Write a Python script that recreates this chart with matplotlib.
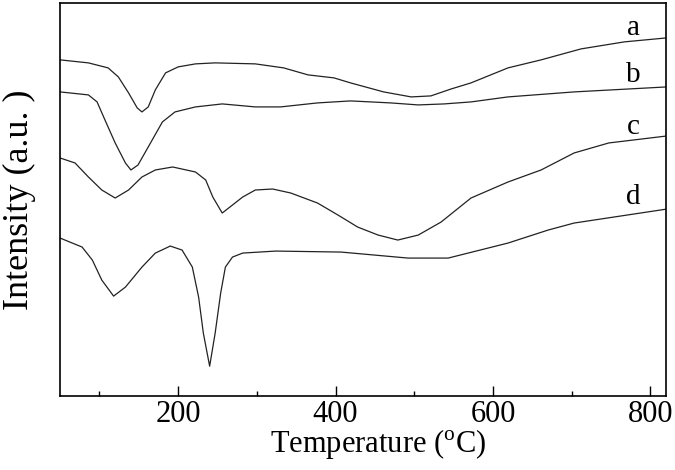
import numpy as np
import matplotlib.pyplot as plt

plt.rcParams['font.family'] = ['Liberation Serif', 'DejaVu Serif']
plt.rcParams['mathtext.fontset'] = 'custom'
plt.rcParams['mathtext.rm'] = 'Liberation Serif'

# temperature (C) and intensity (a.u.)
temp_a = [50, 86, 111, 124, 137, 148, 154, 162, 171, 184, 200, 222, 247, 298, 334, 365, 398, 419,
          461, 496, 521, 547, 572, 619, 661, 712, 767, 821]
int_a = [336, 333, 328, 319, 303, 288, 284, 289, 306, 323, 329, 332, 333, 332, 328, 321, 318, 313,
         304, 299, 300, 307, 313, 328, 336, 347, 354, 358]

temp_b = [50, 86, 97, 107, 120, 133, 140, 149, 162, 180, 196, 222, 256, 298, 330, 377, 419, 470,
          505, 538, 572, 619, 703, 821]
int_b = [304, 301, 294, 276, 253, 233, 226, 231, 249, 274, 284, 289, 292, 289, 289, 293, 295, 293,
         291, 292, 294, 299, 304, 309]

temp_c = [50, 69, 86, 103, 120, 137, 154, 171, 193, 222, 235, 244, 256, 269, 282, 298, 320, 343,
          377, 403, 428, 454, 479, 505, 534, 572, 619, 661, 703, 747, 821]
int_c = [238, 233, 219, 206, 198, 206, 219, 226, 229, 224, 216, 199, 183, 191, 199, 206, 207, 203,
         193, 181, 169, 161, 156, 161, 174, 198, 214, 226, 243, 253, 260]

temp_d = [50, 78, 91, 103, 118, 133, 154, 171, 190, 205, 218, 226, 232, 240, 247, 254, 260, 269,
          282, 324, 407, 492, 543, 619, 670, 703, 821]
int_d = [158, 149, 136, 116, 100, 109, 129, 143, 150, 146, 129, 99, 63, 30, 63, 103, 129, 139,
         143, 145, 144, 138, 138, 153, 166, 173, 187]

labels = ['a', 'b', 'c', 'd']
label_y = [368, 321, 269, 199]

fig = plt.figure(figsize=(6.75, 4.7), dpi=100)
ax = fig.add_axes([0.089, 0.157, 0.898, 0.837])

for t, v in [(temp_a, int_a), (temp_b, int_b), (temp_c, int_c), (temp_d, int_d)]:
    ax.plot(t, v, color='#222222', lw=0.9)

for lab, y in zip(labels, label_y):
    ax.text(778, y, lab, fontsize=21, ha='center', va='center')

ax.set_xlim(50, 820)
ax.set_ylim(0, 393)
ax.set_xticks([200, 400, 600, 800])
ax.set_xticks([100, 300, 500, 700], minor=True)
ax.set_yticks([])
ax.tick_params(axis='x', which='major', direction='in', length=7, width=1, labelsize=22, pad=3)
ax.tick_params(axis='x', which='minor', direction='in', length=3.5, width=1)
for s in ax.spines.values():
    s.set_linewidth(1.2)

ax.set_xlabel(r'Temperature ($^{\rm o}$C)', fontsize=22)
ax.xaxis.set_label_coords(0.525, -0.078)
ax.set_ylabel('Intensity (a.u. )', fontsize=26)
ax.yaxis.set_label_coords(-0.04, 0.5)

fig.savefig('out.png', dpi=100)
